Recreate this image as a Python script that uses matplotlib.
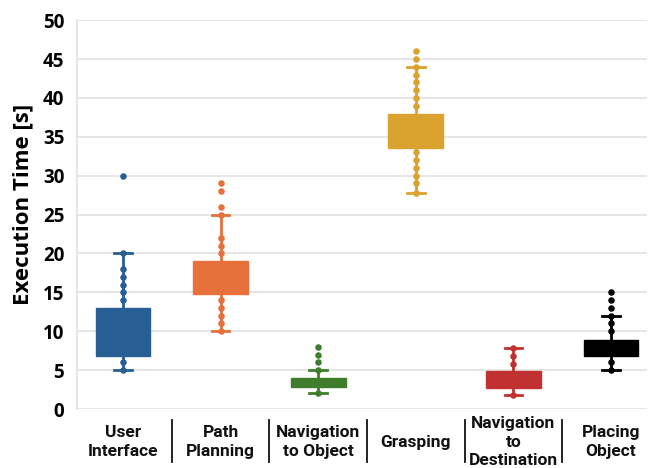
import matplotlib
matplotlib.use("Agg")
import matplotlib.pyplot as plt
import matplotlib.transforms as mtransforms

categories = ["User\nInterface", "Path\nPlanning", "Navigation\nto Object",
              "Grasping", "Navigation\nto\nDestination", "Placing\nObject"]
colors = ["#275E94", "#E8703A", "#3F7D2C", "#DAA22E", "#C23131", "#000000"]

# box statistics
q1 = [6.8, 14.8, 2.8, 33.6, 2.7, 6.8]
med = [9.5, 17.0, 3.5, 35.5, 3.8, 8.0]
q3 = [13.0, 19.0, 4.0, 37.9, 4.9, 8.9]
whislo = [5.0, 10.0, 2.0, 27.8, 1.8, 5.0]
whishi = [20.0, 25.0, 5.0, 44.0, 7.8, 12.0]

# individual observations
points = [
    [5, 6, 14, 15, 16, 17, 18, 20, 30],
    [10, 11, 12, 13, 14, 20, 21, 22, 25, 26, 28, 29],
    [2, 5, 6, 7, 8],
    [27.8, 29, 30, 31, 32, 33, 39, 40, 41, 42, 43, 44, 45, 46],
    [1.8, 5.8, 6.8, 7.8],
    [5, 6, 10, 11, 12, 13, 14, 15],
]

yticks = [0, 5, 10, 15, 20, 25, 30, 35, 40, 45, 50]

fig = plt.figure(figsize=(6.57, 4.68), dpi=100)
ax = fig.add_axes([0.117, 0.126, 0.868, 0.831])

positions = list(range(len(categories)))

for i, pts in enumerate(points):
    ax.scatter([positions[i]] * len(pts), pts, s=22, color=colors[i], zorder=2,
               linewidths=0)

for i in range(len(categories)):
    st = dict(q1=q1[i], med=med[i], q3=q3[i], whislo=whislo[i],
              whishi=whishi[i], fliers=[])
    ax.bxp([st], positions=[positions[i]], widths=0.56, patch_artist=True,
           showfliers=False, capwidths=0.18,
           boxprops=dict(facecolor=colors[i], edgecolor=colors[i], linewidth=1),
           medianprops=dict(color=colors[i], linewidth=0),
           whiskerprops=dict(color=colors[i], linewidth=2.0),
           capprops=dict(color=colors[i], linewidth=2.0),
           zorder=3)

ax.set_xlim(-0.472, 5.37)
ax.set_ylim(0, 50)
ax.set_yticks(yticks)
ax.set_yticklabels([str(t) for t in yticks], fontsize=13.5, fontweight="bold",
                   family="Open Sans")
ax.yaxis.grid(True, color="#e2e2e2", linewidth=1.2, zorder=0)
ax.set_axisbelow(True)
ax.tick_params(axis="y", length=0, pad=9)
ax.tick_params(axis="x", length=0)
for s in ["top", "right", "bottom"]:
    ax.spines[s].set_visible(False)
ax.spines["left"].set_color("#e2e2e2")
ax.spines["left"].set_linewidth(1.2)

ax.set_xticks(positions)
ax.set_xticklabels([])
trans = mtransforms.blended_transform_factory(ax.transData, ax.transAxes)
for i, lab in enumerate(categories):
    ax.text(positions[i], -0.085, lab, transform=trans, ha="center", va="center",
            fontsize=12.5, fontweight="bold", family="Roboto",
            linespacing=1.3, color="#111111")
for i in range(len(categories) - 1):
    xm = positions[i] + 0.5
    ax.plot([xm, xm], [-0.028, -0.135], transform=trans, color="#111111",
            linewidth=1.3, clip_on=False)

ax.set_ylabel("Execution Time [s]", fontsize=16, fontweight="bold",
              family="Open Sans")
ax.yaxis.set_label_coords(-0.077, 0.525)

fig.savefig("out.png", dpi=100, facecolor="white")
